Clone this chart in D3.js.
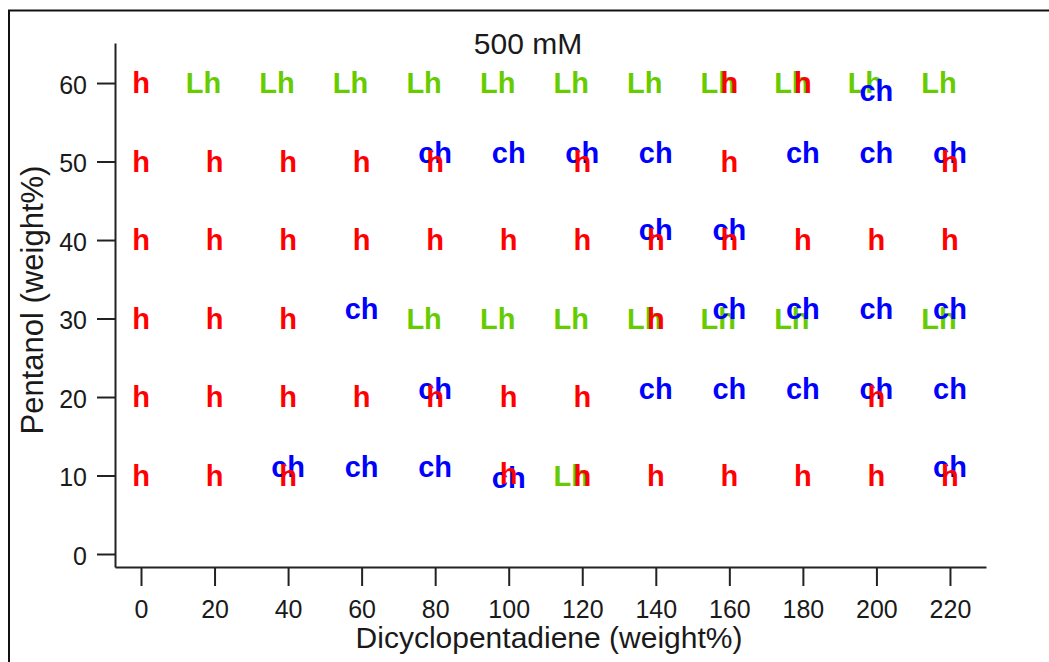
<!DOCTYPE html>
<html>
<head>
<meta charset="utf-8">
<script src="https://cdn.jsdelivr.net/npm/d3@7"></script>
<style>
  html, body { margin: 0; padding: 0; background: #fff; }
  svg { display: block; }
  text { font-family: "Liberation Sans", Arial, sans-serif; }
</style>
</head>
<body>
<svg id="chart" width="1049" height="662"></svg>
<script>
// ---- data ----
const chartTitle = "500 mM";
const xLabel = "Dicyclopentadiene (weight%)";
const yLabel = "Pentanol (weight%)";
const xTickValues = [0, 20, 40, 60, 80, 100, 120, 140, 160, 180, 200, 220];
const yTickValues = [0, 10, 20, 30, 40, 50, 60];

// "Lh" points (green)
const lhPoints = [
  [17, 60], [37, 60], [57, 60], [77, 60], [97, 60], [117, 60], [137, 60], [157, 60], [177, 60], [197, 60], [217, 60],
  [77, 30], [97, 30], [117, 30], [137, 30], [157, 30], [177, 30], [217, 30],
  [117, 10]
];
// "h" points (red)
const hPoints = [
  [0, 60], [160, 60], [180, 60],
  [0, 50], [20, 50], [40, 50], [60, 50], [80, 50], [120, 50], [160, 50], [220, 50],
  [0, 40], [20, 40], [40, 40], [60, 40], [80, 40], [100, 40], [120, 40], [140, 40], [160, 40], [180, 40], [200, 40], [220, 40],
  [0, 30], [20, 30], [40, 30], [140, 30],
  [0, 20], [20, 20], [40, 20], [60, 20], [80, 20], [100, 20], [120, 20], [200, 20],
  [0, 10], [20, 10], [40, 10], [100, 10.2], [120, 10], [140, 10], [160, 10], [180, 10], [200, 10], [220, 10]
];
// "ch" points (blue)
const chPoints = [
  [200, 59],
  [80, 51.2], [100, 51.2], [120, 51.2], [140, 51.2], [180, 51.2], [200, 51.2], [220, 51.2],
  [140, 41.3], [160, 41.3],
  [60, 31.3], [160, 31.3], [180, 31.3], [200, 31.3], [220, 31.3],
  [80, 21.1], [140, 21.1], [160, 21.1], [180, 21.1], [200, 21.1], [220, 21.1],
  [40, 11.2], [60, 11.2], [80, 11.2], [100, 9.8], [220, 11.2]
];

const series = [
  { label: "Lh", color: "#66cc00", points: lhPoints },
  { label: "ch", color: "#0000ff", points: chPoints },
  { label: "h",  color: "#ff0000", points: hPoints }
];

// ---- drawing ----
const svg = d3.select("#chart");
const axisColor = "#222";
const textColor = "#1a1a1a";

// frame
svg.append("rect")
  .attr("x", 9).attr("y", 10.5)
  .attr("width", 1100).attr("height", 700)
  .attr("fill", "none").attr("stroke", "#111").attr("stroke-width", 2);

const x = d3.scaleLinear().domain([-7.07, 229.8]).range([115, 986]);
const y = d3.scaleLinear().domain([-1.656, 65.1]).range([567, 43]);

const xAxis = svg.append("g")
  .attr("transform", "translate(0,567)")
  .call(d3.axisBottom(x).tickValues(xTickValues).tickSize(19).tickSizeOuter(0).tickPadding(14));
const yAxis = svg.append("g")
  .attr("transform", "translate(115,0)")
  .call(d3.axisLeft(y).tickValues(yTickValues).tickSize(18).tickSizeOuter(0).tickPadding(10));

[xAxis, yAxis].forEach(g => {
  g.select(".domain").attr("stroke", axisColor).attr("stroke-width", 2);
  g.selectAll(".tick line").attr("stroke", axisColor).attr("stroke-width", 2);
  g.selectAll(".tick text")
    .attr("fill", textColor)
    .style("font-family", '"Liberation Sans", Arial, sans-serif')
    .style("font-size", "25px");
});
yAxis.selectAll(".tick text").attr("dy", "0.4em");

// title
svg.append("text")
  .attr("x", 528).attr("y", 54)
  .attr("text-anchor", "middle")
  .attr("fill", textColor)
  .style("font-size", "30px")
  .text(chartTitle);

// axis titles
svg.append("text")
  .attr("x", 549).attr("y", 648)
  .attr("text-anchor", "middle")
  .attr("fill", textColor)
  .style("font-size", "30px")
  .text(xLabel);

svg.append("text")
  .attr("transform", "translate(43,300) rotate(-90)")
  .attr("text-anchor", "middle")
  .attr("fill", textColor)
  .style("font-size", "31px")
  .text(yLabel);

// text markers
series.forEach(s => {
  svg.append("g")
    .selectAll("text")
    .data(s.points)
    .join("text")
    .attr("x", d => x(d[0]))
    .attr("y", d => y(d[1]))
    .attr("dy", "0.36em")
    .attr("text-anchor", "middle")
    .attr("fill", s.color)
    .style("font-size", "29px")
    .style("font-weight", "bold")
    .text(s.label);
});
</script>
</body>
</html>
